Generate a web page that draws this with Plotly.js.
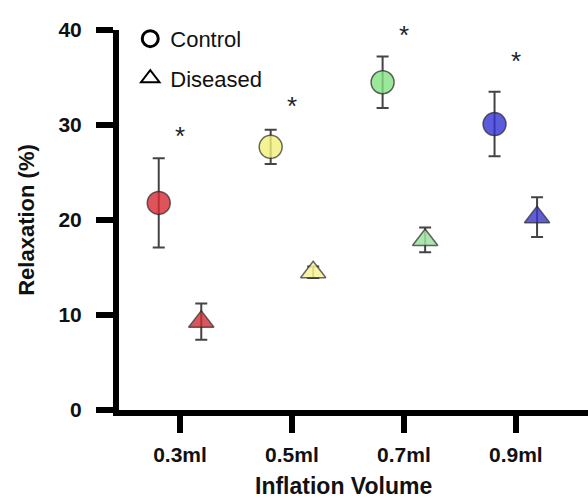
<!DOCTYPE html>
<html><head><meta charset="utf-8">
<script src="https://cdn.plot.ly/plotly-3.0.1.min.js"></script>
<style>html,body{margin:0;padding:0;background:#fff}</style>
</head><body><div id="chart" style="width:588px;height:498px"></div>
<script>
const categories = ['0.3ml', '0.5ml', '0.7ml', '0.9ml'];
const controlMean = [21.8, 27.7, 34.5, 30.1];
const controlErr = [4.7, 1.8, 2.7, 3.4];
const diseasedMean = [9.3, 14.5, 17.9, 20.3];
const diseasedErr = [1.9, 0.6, 1.3, 2.1];
const sigMarkY = [29.3, 32.4, 39.9, 37.2];
const controlColors = ['rgba(215,40,50,0.8)', 'rgba(240,240,120,0.8)', 'rgba(130,225,130,0.8)', 'rgba(50,50,210,0.8)'];
const diseasedColors = ['rgba(205,45,55,0.8)', 'rgba(245,245,150,0.85)', 'rgba(160,225,160,0.85)', 'rgba(55,55,200,0.8)'];
const yTicks = [0, 10, 20, 30, 40];

const FONT = 'Arial, "Liberation Sans", sans-serif';

const errStyle = {type: 'data', color: '#444', thickness: 2, width: 6};

const traces = [
  {
    type: 'scatter', mode: 'markers', name: 'Control', x: categories, y: controlMean,
    offsetgroup: 'c', showlegend: false, cliponaxis: false,
    error_y: Object.assign({array: controlErr}, errStyle),
    marker: {symbol: 'circle', size: 23, color: controlColors, line: {color: 'rgba(40,40,40,0.7)', width: 1.5}}
  },
  {
    type: 'scatter', mode: 'markers', name: 'Diseased', x: categories, y: diseasedMean,
    offsetgroup: 'd', showlegend: false, cliponaxis: false,
    error_y: Object.assign({array: diseasedErr}, errStyle),
    marker: {symbol: 'triangle-up', size: 22, color: diseasedColors, line: {color: 'rgba(40,40,40,0.7)', width: 1.5}}
  },
  {
    type: 'scatter', mode: 'markers', name: 'Control', x: [null], y: [null],
    offsetgroup: 'c', legendgroup: 'g1', showlegend: true,
    marker: {symbol: 'circle', size: 16, color: 'rgba(0,0,0,0)', line: {color: '#000', width: 3}}
  },
  {
    type: 'scatter', mode: 'markers', name: 'Diseased', x: [null], y: [null],
    offsetgroup: 'd', legendgroup: 'g2', showlegend: true,
    marker: {symbol: 'triangle-up', size: 16, color: 'rgba(0,0,0,0)', line: {color: '#000', width: 2}}
  }
];

const annotations = categories.map((c, i) => ({
  x: c, y: sigMarkY[i], xref: 'x', yref: 'y', text: '*', showarrow: false,
  font: {family: FONT, size: 26, color: '#222'}, yanchor: 'middle', yshift: -4
}));
annotations.push({
  x: 0.478, y: -0.2, xref: 'paper', yref: 'paper', text: 'Inflation Volume', showarrow: false,
  xanchor: 'center', yanchor: 'middle',
  font: {family: FONT, size: 23, color: '#111', weight: 'bold'}
});

const layout = {
  width: 588, height: 498,
  margin: {l: 119, r: 0, t: 30, b: 88},
  paper_bgcolor: '#fff', plot_bgcolor: '#fff',
  scattermode: 'group', scattergap: 0.24,
  showlegend: true,
  legend: {x: 0.024, y: 1.032, xanchor: 'left', yanchor: 'top', tracegroupgap: 8,
           font: {family: FONT, size: 22, color: '#111'}, bgcolor: 'rgba(0,0,0,0)'},
  font: {family: FONT, color: '#111'},
  xaxis: {
    type: 'category', range: [-0.545, 3.645], showgrid: false, zeroline: false,
    showline: true, linecolor: '#000', linewidth: 6,
    ticks: 'outside', ticklen: 17, tickwidth: 6, tickcolor: '#000',
    ticklabelstandoff: 4,
    tickfont: {family: FONT, size: 21, color: '#111', weight: 'bold'}
  },
  yaxis: {
    range: [0, 40], tickvals: yTicks, showgrid: false, zeroline: false,
    showline: true, linecolor: '#000', linewidth: 6,
    ticks: 'outside', ticklen: 17, tickwidth: 6, tickcolor: '#000',
    ticklabelstandoff: 10,
    tickfont: {family: FONT, size: 21, color: '#111', weight: 'bold'},
    title: {text: 'Relaxation (%)', font: {family: FONT, size: 22, color: '#111', weight: 'bold'}, standoff: 20}
  },
  annotations: annotations
};

Plotly.newPlot('chart', traces, layout, {displayModeBar: false, staticPlot: true});
</script>
</body></html>
